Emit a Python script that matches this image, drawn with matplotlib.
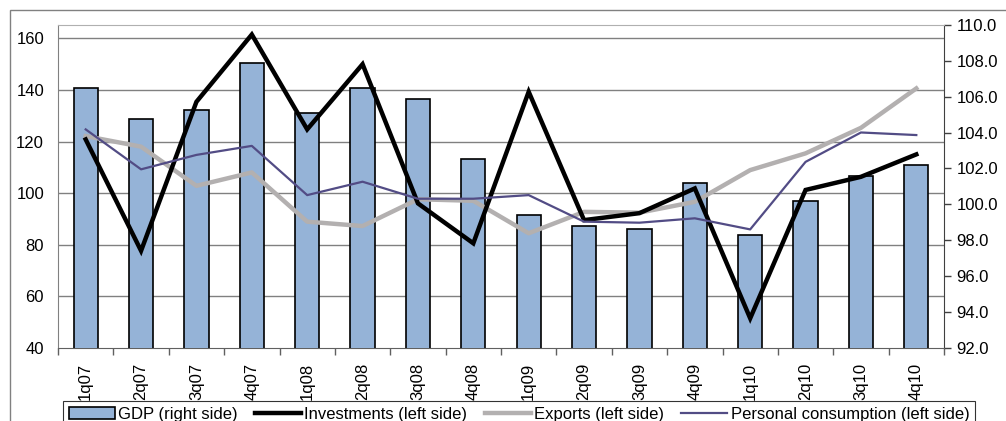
import matplotlib
matplotlib.use("Agg")
import matplotlib.pyplot as plt
import numpy as np
from matplotlib.transforms import blended_transform_factory
from matplotlib.patches import Rectangle

plt.rcParams['font.family'] = ['Liberation Sans', 'DejaVu Sans']

categories = ["1q07", "2q07", "3q07", "4q07", "1q08", "2q08", "3q08", "4q08",
              "1q09", "2q09", "3q09", "4q09", "1q10", "2q10", "3q10", "4q10"]
gdp = [106.5, 104.75, 105.25, 107.9, 105.1, 106.5, 105.9, 102.5,
       99.4, 98.8, 98.6, 101.2, 98.3, 100.2, 101.6, 102.2]
investments = [120.8, 77.6, 135.4, 161.5, 124.7, 150.0, 96.0, 80.5,
               139.3, 89.5, 92.2, 101.8, 51.4, 101.2, 106.3, 115.0]
exports = [122.1, 118.0, 102.8, 108.0, 88.9, 87.2, 97.6, 97.0,
           84.4, 92.7, 92.4, 96.6, 108.9, 115.4, 125.3, 140.6]
consumption = [124.7, 109.2, 114.8, 118.3, 99.2, 104.4, 97.8, 97.8,
               99.2, 88.9, 88.5, 90.2, 85.9, 112.1, 123.5, 122.5]
left_ticks = [40, 60, 80, 100, 120, 140, 160]
right_ticks = [92, 94, 96, 98, 100, 102, 104, 106, 108, 110]

FS = 12
W, H = 1006, 421
fig = plt.figure(figsize=(W / 100, H / 100), dpi=100)
fig.patches.append(Rectangle((10 / W, -0.1), 1.2, 1 - 10 / H + 0.1, transform=fig.transFigure,
                             fill=False, edgecolor='#808080', linewidth=1.0))

pos = [58 / W, 1 - 347.7 / H, (944 - 58) / W, (347.7 - 25) / H]
axb = fig.add_axes(pos)          # bars, right axis
axl = axb.twinx()                # lines, left axis
axl.set_zorder(axb.get_zorder() + 1)
axl.patch.set_visible(False)

x = np.arange(len(categories))
bar_color = '#95B3D7'
axb.bar(x, gdp, width=0.44, color=bar_color, edgecolor='black', linewidth=1.2,
        label='GDP (right side)', zorder=3)
axb.set_ylim(92, 110)
axb.set_xlim(-0.5, len(categories) - 0.5)

axl.plot(x, investments, color='black', linewidth=3.2, label='Investments (left side)',
         solid_joinstyle='miter', zorder=4)
axl.plot(x, exports, color='#B3B0B0', linewidth=3.2, label='Exports (left side)', zorder=3)
axl.plot(x, consumption, color='#524C85', linewidth=1.6,
         label='Personal consumption (left side)', zorder=5)
axl.set_ylim(40, 165.2)

# gridlines for left axis, drawn beneath bars
tr = blended_transform_factory(axb.transAxes, axl.transData)
for v in left_ticks[1:]:
    axb.plot([0, 1], [v, v], transform=tr, color='#808080', linewidth=1.0, zorder=1)

axb.yaxis.tick_right()
axb.yaxis.set_label_position('right')
axb.set_yticks(right_ticks)
axb.set_yticklabels([f"{v:.1f}" for v in right_ticks])
axl.yaxis.tick_left()
axl.set_yticks(left_ticks)
axl.set_yticklabels([str(v) for v in left_ticks])

for a in (axb, axl):
    for s in a.spines.values():
        s.set_visible(False)
axb.spines['right'].set_visible(True)
axb.spines['right'].set_color('#404040')
axb.spines['left'].set_visible(True)
axb.spines['left'].set_color('#808080')
axb.spines['top'].set_visible(True)
axb.spines['top'].set_color('#B0B0B0')
axb.spines['bottom'].set_visible(True)
axb.spines['bottom'].set_color('#606060')

axb.tick_params(axis='y', which='both', right=True, left=False, length=5, width=1,
                color='#404040', labelsize=FS, pad=4, labelright=True, labelleft=False)
axl.tick_params(axis='y', which='both', left=True, right=False, length=0, width=1,
                color='#404040', labelsize=FS, pad=10, labelleft=True, labelright=False)
axl.set_xticks([])

axb.set_xticks(x)
axb.set_xticklabels(categories, rotation=90, fontsize=FS)
axb.set_xticks(np.arange(-0.5, len(categories), 1), minor=True)
axb.tick_params(axis='x', which='major', length=0, pad=11)
axb.tick_params(axis='x', which='minor', length=5, color='#606060', width=1)

h1, l1 = axb.get_legend_handles_labels()
h2, l2 = axl.get_legend_handles_labels()
leg = fig.legend(h1 + h2, l1 + l2, loc='upper left', bbox_to_anchor=(63 / W, 1 - 401 / H),
                 ncol=4, frameon=True, fancybox=False, fontsize=FS, handlelength=2.75,
                 handletextpad=0.2, columnspacing=1.05, borderpad=0.35, borderaxespad=0)
leg.get_frame().set_edgecolor('black')
leg.get_frame().set_linewidth(0.8)

fig.savefig('out.png', dpi=100)
